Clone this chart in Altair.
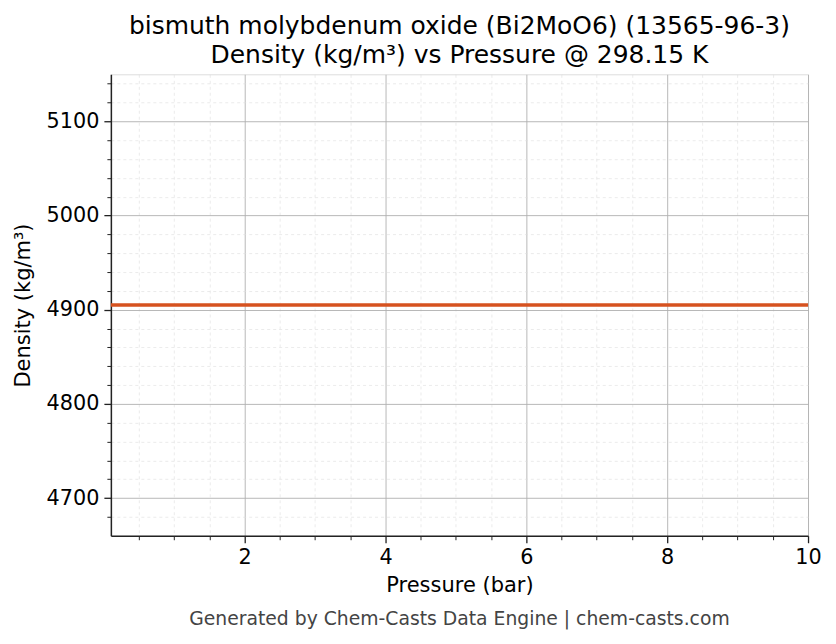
import altair as alt
import pandas as pd

pressure = [0.1, 1, 2, 3, 4, 5, 6, 7, 8, 9, 10]
density = [4905, 4905, 4905, 4905, 4905, 4905, 4905, 4905, 4905, 4905, 4905]

x_major = [2, 4, 6, 8, 10]
x_minor = [0.5, 1, 1.5, 2.5, 3, 3.5, 4.5, 5, 5.5, 6.5, 7, 7.5, 8.5, 9, 9.5]
y_major = [4700, 4800, 4900, 5000, 5100]
y_minor = [4680, 4720, 4740, 4760, 4780, 4820, 4840, 4860, 4880, 4920, 4940,
           4960, 4980, 5020, 5040, 5060, 5080, 5120, 5140]
x_domain = [0.1, 10]
y_domain = [4660, 5150]

title_lines = ["bismuth molybdenum oxide (Bi2MoO6) (13565-96-3)",
               "Density (kg/m³) vs Pressure @ 298.15 K"]
x_title = "Pressure (bar)"
y_title = "Density (kg/m³)"
footer = "Generated by Chem-Casts Data Engine | chem-casts.com"

FONT = "DejaVu Sans"
W, H = 698, 462

df = pd.DataFrame({"p": pressure, "d": density})

xs = alt.Scale(domain=x_domain, nice=False, zero=False)
ys = alt.Scale(domain=y_domain, nice=False, zero=False)

minor = alt.Chart(df).mark_line(opacity=0).encode(
    x=alt.X("p:Q", scale=xs, axis=alt.Axis(
        orient="bottom", values=x_minor, labels=False, domain=False, title=None,
        tickSize=4, tickWidth=1, tickColor="#222222",
        grid=True, gridDash=[3, 3], gridColor="#dddddd", gridWidth=0.6)),
    y=alt.Y("d:Q", scale=ys, axis=alt.Axis(
        orient="left", values=y_minor, labels=False, domain=False, title=None,
        tickSize=4, tickWidth=1, tickColor="#222222",
        grid=True, gridDash=[3, 3], gridColor="#dddddd", gridWidth=0.6)),
)

major = alt.Chart(df).mark_line(color="#d6521f", strokeWidth=3.5).encode(
    x=alt.X("p:Q", scale=xs, axis=alt.Axis(
        orient="bottom", values=x_major, title=x_title, format="d",
        tickSize=7, tickWidth=1.3, tickColor="#222222",
        domain=True, domainColor="#222222", domainWidth=1.5,
        grid=True, gridColor="#b0b0b0", gridWidth=0.9,
        labelFlush=False,
        labelFont=FONT, labelFontSize=20.8, labelColor="black", labelPadding=5,
        titleFont=FONT, titleFontSize=21, titleFontWeight="normal",
        titleColor="black", titlePadding=7)),
    y=alt.Y("d:Q", scale=ys, axis=alt.Axis(
        orient="left", values=y_major, title=y_title, format="d",
        tickSize=7, tickWidth=1.3, tickColor="#222222",
        domain=True, domainColor="#222222", domainWidth=1.5,
        grid=True, gridColor="#b0b0b0", gridWidth=0.9,
        labelFlush=False,
        labelFont=FONT, labelFontSize=20.8, labelColor="black", labelPadding=5,
        titleFont=FONT, titleFontSize=21, titleFontWeight="normal",
        titleColor="black", titlePadding=13)),
)

foot = alt.Chart(pd.DataFrame({"t": [footer]})).mark_text(
    font=FONT, fontSize=18.8, color="#444444", baseline="alphabetic", align="center"
).encode(text="t:N", x=alt.value(W / 2), y=alt.value(551))

chart = alt.layer(minor, major, foot).resolve_axis(
    x="independent", y="independent"
).properties(
    width=W, height=H,
    title=alt.TitleParams(text=title_lines, font=FONT, fontSize=25,
                          fontWeight="normal", color="black", lineHeight=29,
                          anchor="middle", offset=6),
    padding={"left": 103, "top": 66, "right": 20, "bottom": 100},
    autosize=alt.AutoSizeParams(type="none"),
).configure_view(stroke="#222222", strokeWidth=1.5).configure(background="white")

chart.save("out.html", embed_options={"renderer": "svg", "actions": False})
